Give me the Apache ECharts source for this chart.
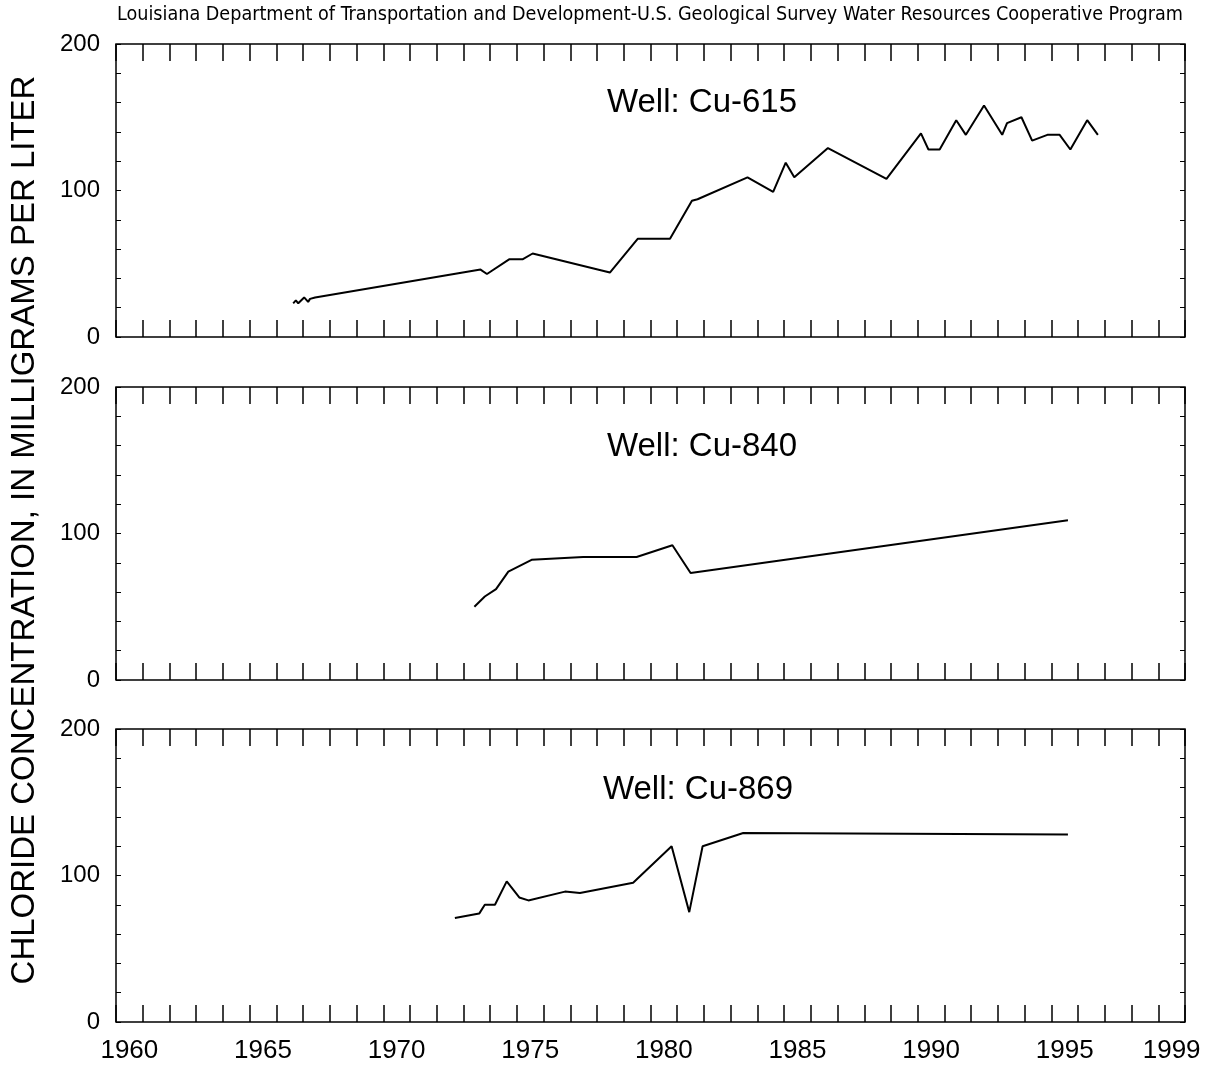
<!DOCTYPE html>
<html>
<head>
<meta charset="utf-8">
<script src="https://cdn.jsdelivr.net/npm/echarts@6/dist/echarts.min.js"></script>
<style>
html,body{margin:0;padding:0;background:#fff;}
#c{width:1210px;height:1067px;}
</style>
</head>
<body>
<div id="c"></div>
<script>
// ---- data ----
const headerText = 'Louisiana Department of Transportation and Development-U.S. Geological Survey Water Resources Cooperative Program';
const yAxisTitle = 'CHLORIDE CONCENTRATION, IN MILLIGRAMS PER LITER';
const wellNames = ['Well: Cu-615', 'Well: Cu-840', 'Well: Cu-869'];
const xLabelYears = [1960, 1965, 1970, 1975, 1980, 1985, 1990, 1995, 1999];
const yLabelValues = [0, 100, 200];

const years615 = [1966.63, 1966.73, 1966.82, 1967.04, 1967.19, 1967.26, 1967.45, 1967.51, 1973.64, 1973.88, 1974.71, 1975.21, 1975.59, 1978.48, 1979.52, 1980.73, 1981.55, 1981.76, 1983.63, 1984.59, 1985.06, 1985.38, 1986.64, 1988.83, 1990.12, 1990.4, 1990.82, 1991.44, 1991.8, 1992.48, 1993.16, 1993.34, 1993.88, 1994.28, 1994.85, 1995.31, 1995.71, 1996.34, 1996.74];
const values615 = [23, 25, 23, 27, 24, 26, 27, 28, 46, 43, 53, 53, 57, 44, 67, 67, 93, 94, 109, 99, 119, 109, 129, 108, 139, 128, 128, 148, 138, 158, 138, 146, 150, 134, 138, 138, 128, 148, 138];

const years840 = [1973.41, 1973.8, 1974.22, 1974.68, 1975.55, 1977.48, 1979.48, 1980.82, 1981.5, 1995.62];
const values840 = [50, 57, 62, 74, 82, 84, 84, 92, 73, 109];

const years869 = [1972.68, 1973.59, 1973.8, 1974.18, 1974.62, 1975.09, 1975.43, 1976.8, 1977.36, 1979.35, 1980.79, 1981.45, 1981.95, 1983.47, 1995.62];
const values869 = [71, 74, 80, 80, 96, 85, 83, 89, 88, 95, 120, 75, 120, 129, 128];

// ---- build ----
const FONT = '"Liberation Sans", Arial, Helvetica, sans-serif';
const seriesData = [
  years615.map((y, i) => [y, values615[i]]),
  years840.map((y, i) => [y, values840[i]]),
  years869.map((y, i) => [y, values869[i]])
];
const gridTops = [44, 387, 729];
const gridHeight = 293;

const chart = echarts.init(document.getElementById('c'), null, {renderer: 'canvas'});

const grids = [], xAxes = [], yAxes = [], series = [];
gridTops.forEach((top, g) => {
  grids.push({left: 116, right: 25, top: top, height: gridHeight, show: true, borderColor: '#000', borderWidth: 1.5, backgroundColor: 'transparent'});
  // bottom x axis
  xAxes.push({
    type: 'value', gridIndex: g, position: 'bottom', min: 1960, max: 2000, interval: 1,
    axisLine: {show: false, onZero: false}, splitLine: {show: false},
    axisTick: {show: true, inside: true, length: 17, lineStyle: {color: '#000', width: 1.5}},
    axisLabel: {
      show: g === 2, margin: 16, color: '#000', fontFamily: FONT, fontSize: 26,
      customValues: xLabelYears.map(v => v + 0.5),
      formatter: v => String(Math.floor(v))
    }
  });
  // top x axis
  xAxes.push({
    type: 'value', gridIndex: g, position: 'top', min: 1960, max: 2000, interval: 1,
    axisLine: {show: false, onZero: false}, splitLine: {show: false},
    axisTick: {show: true, inside: true, length: 17, lineStyle: {color: '#000', width: 1.5}},
    axisLabel: {show: false}
  });
  // left y
  yAxes.push({
    type: 'value', gridIndex: g, position: 'left', min: 0, max: 200, interval: 20,
    axisLine: {show: false, onZero: false}, splitLine: {show: false},
    axisTick: {show: true, inside: true, length: 5, lineStyle: {color: '#000', width: 1}},
    axisLabel: {
      show: true, margin: 16, color: '#000', fontFamily: FONT, fontSize: 24,
      customValues: yLabelValues,
      formatter: v => String(v)
    }
  });
  // right y
  yAxes.push({
    type: 'value', gridIndex: g, position: 'right', min: 0, max: 200, interval: 20,
    axisLine: {show: false, onZero: false}, splitLine: {show: false},
    axisTick: {show: true, inside: true, length: 5, lineStyle: {color: '#000', width: 1}},
    axisLabel: {show: false}
  });
  series.push({
    type: 'line', xAxisIndex: g * 2, yAxisIndex: g * 2, data: seriesData[g],
    showSymbol: false, symbol: 'none', animation: false,
    lineStyle: {color: '#000', width: 2}, z: 5
  });
});

const titlePos = [[702, 103], [702, 447], [698, 790]];
const graphics = [
  {type: 'text', left: 117, top: 5, style: {text: headerText, fontFamily: '"Liberation Sans Narrow", "DejaVu Sans Condensed", ' + FONT, fontSize: 19.6, fill: '#000'}},
  {type: 'text', x: 25, y: 530, rotation: Math.PI / 2, style: {text: yAxisTitle, fontFamily: FONT, fontSize: 33, fill: '#000', align: 'center', verticalAlign: 'middle'}}
];
wellNames.forEach((n, i) => {
  graphics.push({type: 'text', x: titlePos[i][0], y: titlePos[i][1], style: {text: n, fontFamily: FONT, fontSize: 33, fill: '#000', align: 'center', verticalAlign: 'middle'}});
});

chart.setOption({
  backgroundColor: '#fff',
  animation: false,
  grid: grids,
  xAxis: xAxes,
  yAxis: yAxes,
  series: series,
  graphic: graphics
});
</script>
</body>
</html>
